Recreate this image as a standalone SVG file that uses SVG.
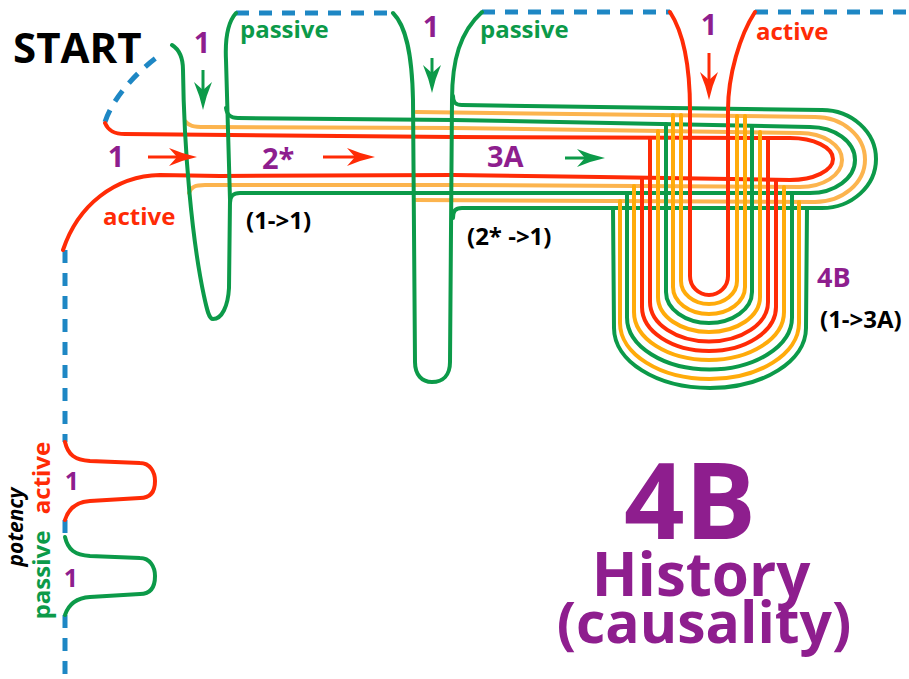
<svg xmlns="http://www.w3.org/2000/svg" xmlns:xlink="http://www.w3.org/1999/xlink" width="909" height="679" viewBox="0 0 909 679">
<style>
.ln{fill:none;stroke-width:4;stroke-linecap:round;stroke-linejoin:round}
.g{stroke:#0c9a49}.r{stroke:#ff2b06}.oh{stroke:#fcb44e}.ov{stroke:#ffab0a}
.dash{fill:none;stroke:#1e87c4;stroke-width:5;stroke-dasharray:13 10}
.sh{fill:none;stroke-width:3}
text{font-family:"Open Sans","Liberation Sans",sans-serif;font-weight:700}
.pu{fill:#8e1e8e}.gt{fill:#0c9a49}.rt{fill:#ff2b06}.bk{fill:#000}
</style>
<defs>
<path id="ah" d="M0,0 Q-14,-3 -28,-9 L-20,0 L-28,9 Q-14,3 0,0Z"/>
</defs>
<rect width="909" height="679" fill="#fff"/>

<g id="boundary">
<path class="dash" d="M105,122 C112,100 135,72 163,53"/>
<path class="dash" d="M236,13 L393,13"/>
<path class="dash" d="M482,12 L670,12"/>
<path class="dash" d="M755,12 L909,12"/>
<path class="dash" d="M65,250 L65,442"/>
<path class="dash" d="M65,520 L65,537"/>
<path class="dash" d="M65,615 L65,679"/>
</g>

<g id="bundle">
<path class="ln g" d="M453,96 C453,102 455,105 462,105 L822,110 C851.8,110 876,132 876,159 C876,186 851.8,208 822,208 L462,208 C455,208 453,211 453,218"/>
<path class="ln oh" d="M416,112 L815,117 C842.6,117 865,136 865,159.5 C865,183 842.6,202 815,202 L416,200"/>
<path class="ln g" d="M226,108 C227,115 230,118 238,118 L453,120 L810,127 C834.8,127 855,141.8 855,160 C855,178.2 834.8,193 810,193 L453,193 L240,193 C233,193 230,196 230,203"/>
<path class="ln oh" d="M185,121 C189,126 193,127 205,127 L453,128 L800,133 C823.2,133 842,145.1 842,160 C842,174.9 823.2,187 800,187 L453,185 L205,185 C195,185 191,187 189,193"/>
<path class="ln r" d="M105,123 C108,130 113,134 125,134 L453,137 L790,138 C813.7,138 833,147.4 833,159 C833,170.6 813.7,180 790,180 L600,177 L453,175 L220,176 L160,175 C115,176 78,205 63,250"/>
</g>

<g id="u-4B">
<path class="ln g" d="M613,208 L614,328 C614,361.1 656.5,388 710,388 C763.5,388 806,361.1 806,328 L807,208"/>
<path class="ln ov" d="M620,201 L620,323 C620,353.9 660.1,379 709.5,379 C758.9,379 799,353.9 799,323 L799,202"/>
<path class="ln g" d="M627,193 L627,317.5 C627,346.2 664,369.5 709.5,369.5 C755,369.5 792,346.2 792,317.5 L792,193"/>
<path class="ln ov" d="M634,186 L634,312 C634,338.5 667.6,360 709,360 C750.4,360 784,338.5 784,312 L784,187"/>
<path class="ln r" d="M642,178 L642,307 C642,331.3 672,351 709,351 C746,351 776,331.3 776,307 L776,180"/>
<path class="ln r" d="M650,138 L650,302 C650,323.8 676.4,341.5 709,341.5 C741.6,341.5 768,323.8 768,302 L768,138"/>
<path class="ln ov" d="M658,131 L658,297 C658,316.3 680.8,332 709,332 C737.2,332 760,316.3 760,297 L760,132"/>
<path class="ln g" d="M666,124 L666,292 C666,309.1 685.3,323 709,323 C732.7,323 752,309.1 752,292 L752,126"/>
<path class="ln ov" d="M673,115 L673,287 C673,301.9 689.1,314 709,314 C728.9,314 745,301.9 745,287 L745,116"/>
<path class="ln ov" d="M681,115 L681,281 C681,293.7 693.5,304 709,304 C724.5,304 737,293.7 737,281 L737,116"/>
<path class="ln r" d="M670,12 C685,35 690,70 690,110 L690,276 C690,286.5 698.5,295 709,295 C719.5,295 728,286.5 728,276 L728,110 C728,75 740,35 755,12"/>
</g>

<g id="loop-1">
<path class="ln g" d="M172,45 C180,50 183,58 183,70 C184,150 192,240 204,296 C207,310 209,319 213,319 C222,319 228,306 229,288 L230,200 L226,60 C225,40 228,22 236,13"/>
</g>
<g id="loop-2">
<path class="ln g" d="M393,13 C405,25 412,50 413,100 L415,362 C415,375 422,382 432,382 C443,382 450,375 450,362 L452,100 C452,60 460,32 482,12"/>
</g>

<g id="potency">
<path class="ln r" d="M65,442 C68,455 75,460 90,461 L140,463 C150,463 155,472 155,481 C155,492 150,498 140,498 L90,501 C75,502 68,510 65,520"/>
<path class="ln g" d="M65,537 C68,550 75,555 90,556 L140,558 C150,558 155,567 155,576 C155,588 150,594 140,594 L90,597 C75,598 68,606 65,615"/>
<text class="pu" x="72" y="490" font-size="25" text-anchor="middle">1</text>
<text class="pu" x="71" y="587" font-size="25" text-anchor="middle">1</text>
<text class="rt" font-size="24" text-anchor="middle" transform="translate(50,478) rotate(-90)">active</text>
<text class="gt" font-size="24" text-anchor="middle" transform="translate(50,575) rotate(-90)">passive</text>
<text class="bk" font-size="21" font-style="italic" text-anchor="middle" transform="translate(23,527) rotate(-90)">potency</text>
</g>

<g id="arrows">
<line class="sh r" x1="148" y1="157" x2="180" y2="157"/>
<use xlink:href="#ah" href="#ah" fill="#ff2b06" transform="translate(197,157)"/>
<line class="sh r" x1="323" y1="157" x2="358" y2="157"/>
<use xlink:href="#ah" href="#ah" fill="#ff2b06" transform="translate(375,157)"/>
<line class="sh g" x1="565" y1="158" x2="588" y2="158"/>
<use xlink:href="#ah" href="#ah" fill="#0c9a49" transform="translate(605,158)"/>
<line class="sh g" x1="203" y1="70" x2="203" y2="92"/>
<use xlink:href="#ah" href="#ah" fill="#0c9a49" transform="translate(203,110) rotate(90)"/>
<line class="sh g" x1="432" y1="58" x2="432" y2="76"/>
<use xlink:href="#ah" href="#ah" fill="#0c9a49" transform="translate(432,93) rotate(90)"/>
<line class="sh r" x1="709" y1="53" x2="709" y2="83"/>
<use xlink:href="#ah" href="#ah" fill="#ff2b06" transform="translate(709,100) rotate(90)"/>
</g>

<g id="labels">
<text class="bk" x="13" y="63" font-size="42">START</text>
<text class="gt" x="240" y="38" font-size="24">passive</text>
<text class="gt" x="480" y="38" font-size="24">passive</text>
<text class="rt" x="756" y="40" font-size="24">active</text>
<text class="rt" x="103" y="225" font-size="24">active</text>
<text class="pu" x="202" y="53" font-size="29" text-anchor="middle">1</text>
<text class="pu" x="431" y="37" font-size="29" text-anchor="middle">1</text>
<text class="pu" x="709" y="35" font-size="29" text-anchor="middle">1</text>
<text class="pu" x="116" y="167" font-size="29" text-anchor="middle">1</text>
<text class="pu" x="262" y="169" font-size="29">2*</text>
<text class="pu" x="487" y="167" font-size="29">3A</text>
<text class="bk" x="246" y="229" font-size="24">(1-&gt;1)</text>
<text class="bk" x="467" y="245" font-size="24">(2* -&gt;1)</text>
<text class="pu" x="817" y="287" font-size="27">4B</text>
<text class="bk" x="820" y="328" font-size="24">(1-&gt;3A)</text>
</g>

<g id="title">
<text class="pu" x="690" y="539" font-size="106" text-anchor="middle">4B</text>
<text class="pu" x="701" y="596" font-size="60" text-anchor="middle">History</text>
<text class="pu" x="704" y="643" font-size="57" text-anchor="middle">(causality)</text>
</g>
</svg>
